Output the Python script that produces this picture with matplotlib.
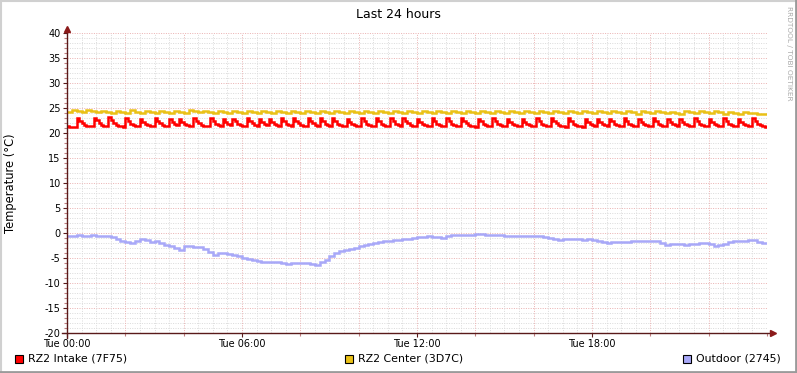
import numpy as np
import matplotlib
matplotlib.use("Agg")
import matplotlib.pyplot as plt
from matplotlib.patches import Rectangle
from matplotlib.lines import Line2D

plt.rcParams["axes.unicode_minus"] = False

# RZ2 Intake, 5 minute steps (one row = one hour)
intake = [
    21.4, 21.3, 21.3, 21.3, 23.0, 22.5, 22.0, 21.7, 21.5, 21.4, 21.4, 23.1,
    22.6, 22.0, 21.7, 21.5, 21.4, 23.2, 22.6, 22.1, 21.7, 21.5, 21.4, 21.3,
    23.0, 22.4, 21.9, 21.6, 21.5, 21.4, 22.8, 22.3, 21.8, 21.6, 21.5, 21.4,
    23.1, 22.5, 22.0, 21.7, 21.5, 21.4, 22.9, 22.3, 21.8, 21.6, 22.9, 22.3,
    21.9, 21.6, 21.5, 21.4, 23.1, 22.5, 22.0, 21.7, 21.5, 21.4, 21.4, 23.0,
    22.4, 21.9, 21.6, 21.5, 22.8, 22.2, 21.8, 21.6, 22.9, 22.4, 21.9, 21.6,
    21.5, 21.4, 23.1, 22.5, 22.0, 21.7, 21.5, 22.9, 22.3, 21.8, 21.6, 22.9,
    22.3, 21.9, 21.6, 21.5, 23.0, 22.4, 21.9, 21.6, 21.5, 23.0, 22.5, 22.0,
    21.7, 21.5, 21.4, 23.1, 22.5, 22.0, 21.7, 21.5, 23.0, 22.4, 21.9, 21.6,
    21.5, 23.0, 22.4, 21.9, 21.6, 21.5, 21.4, 22.9, 22.3, 21.9, 21.6, 21.5,
    21.4, 23.0, 22.4, 21.9, 21.6, 21.5, 21.4, 23.0, 22.4, 21.9, 21.6, 21.5,
    21.4, 23.0, 22.4, 21.9, 21.6, 21.5, 23.1, 22.5, 22.0, 21.7, 21.5, 21.4,
    22.9, 22.3, 21.8, 21.6, 21.5, 21.4, 23.0, 22.4, 21.9, 21.6, 21.5, 21.4,
    23.0, 22.4, 21.9, 21.6, 21.5, 21.4, 23.1, 22.5, 22.0, 21.7, 21.5, 21.4,
    21.3, 22.9, 22.4, 21.9, 21.6, 21.5, 21.4, 23.0, 22.4, 21.9, 21.6, 21.5,
    21.4, 22.8, 22.3, 21.8, 21.6, 21.5, 21.4, 22.9, 22.3, 21.9, 21.6, 21.5,
    21.4, 23.0, 22.4, 21.9, 21.6, 21.5, 21.4, 23.1, 22.5, 22.0, 21.7, 21.5,
    21.4, 21.3, 23.0, 22.4, 21.9, 21.6, 21.5, 21.4, 21.3, 22.9, 22.3, 21.8,
    21.6, 21.5, 22.8, 22.2, 21.8, 21.6, 21.5, 22.9, 22.4, 21.9, 21.6, 21.5,
    21.4, 23.0, 22.4, 21.9, 21.6, 21.5, 21.4, 22.9, 22.3, 21.8, 21.6, 21.5,
    21.4, 23.0, 22.4, 21.9, 21.6, 21.5, 21.4, 22.8, 22.2, 21.8, 21.6, 21.5,
    22.9, 22.3, 21.9, 21.6, 21.5, 21.4, 23.0, 22.4, 21.9, 21.6, 21.5, 21.4,
    22.9, 22.3, 21.8, 21.6, 21.5, 21.4, 23.0, 22.4, 21.9, 21.6, 21.5, 21.4,
    22.9, 22.3, 21.8, 21.6, 21.5, 21.4, 23.0, 22.4, 21.9, 21.6, 21.4, 21.3,
]

# RZ2 Center, 10 minute steps (one row = one hour)
center = [
    24.2, 24.6, 24.4, 24.2, 24.6, 24.4,
    24.2, 24.5, 24.3, 24.1, 24.5, 24.3,
    24.1, 24.6, 24.3, 24.1, 24.5, 24.3,
    24.1, 24.5, 24.3, 24.1, 24.4, 24.2,
    24.1, 24.6, 24.4, 24.2, 24.5, 24.3,
    24.1, 24.5, 24.3, 24.1, 24.4, 24.2,
    24.0, 24.5, 24.3, 24.1, 24.5, 24.3,
    24.1, 24.4, 24.2, 24.0, 24.5, 24.3,
    24.1, 24.5, 24.3, 24.1, 24.4, 24.2,
    24.0, 24.5, 24.3, 24.1, 24.4, 24.2,
    24.0, 24.4, 24.2, 24.0, 24.5, 24.3,
    24.1, 24.4, 24.2, 24.0, 24.4, 24.2,
    24.0, 24.5, 24.3, 24.1, 24.4, 24.2,
    24.0, 24.4, 24.2, 24.0, 24.4, 24.2,
    24.0, 24.5, 24.3, 24.1, 24.4, 24.2,
    24.0, 24.4, 24.2, 24.0, 24.4, 24.2,
    24.0, 24.4, 24.2, 24.0, 24.4, 24.2,
    24.0, 24.5, 24.3, 24.1, 24.4, 24.2,
    24.0, 24.4, 24.2, 24.0, 24.4, 24.2,
    24.0, 24.4, 24.2, 23.9, 24.4, 24.2,
    24.0, 24.4, 24.2, 24.0, 24.3, 24.1,
    23.9, 24.4, 24.2, 24.0, 24.4, 24.2,
    24.0, 24.4, 24.2, 23.9, 24.3, 24.1,
    23.9, 24.3, 24.1, 24.0, 23.9, 23.9,
]

# Outdoor, 10 minute steps (one row = one hour)
outdoor = [
    -0.5, -0.5, -0.4, -0.5, -0.5, -0.4,
    -0.5, -0.5, -0.6, -0.7, -1.1, -1.6,
    -1.8, -1.9, -1.5, -1.2, -1.4, -1.7,
    -1.6, -2.0, -2.3, -2.6, -3.0, -3.4,
    -2.6, -2.5, -2.7, -2.8, -3.2, -3.8,
    -4.3, -4.0, -3.9, -4.1, -4.3, -4.5,
    -4.9, -5.1, -5.4, -5.6, -5.7, -5.8,
    -5.7, -5.7, -5.9, -6.1, -5.9, -6.0,
    -5.9, -6.0, -6.1, -6.4, -5.8, -5.3,
    -4.5, -4.0, -3.6, -3.3, -3.1, -2.9,
    -2.6, -2.4, -2.2, -1.9, -1.8, -1.6,
    -1.5, -1.4, -1.3, -1.2, -1.1, -1.0,
    -0.8, -0.8, -0.6, -0.7, -0.8, -0.9,
    -0.5, -0.4, -0.4, -0.3, -0.3, -0.3,
    -0.2, -0.2, -0.4, -0.4, -0.3, -0.4,
    -0.5, -0.5, -0.6, -0.6, -0.6, -0.6,
    -0.6, -0.6, -0.8, -0.9, -1.1, -1.3,
    -1.2, -1.2, -1.2, -1.2, -1.3, -1.2,
    -1.4, -1.6, -1.7, -1.9, -1.8, -1.7,
    -1.7, -1.7, -1.6, -1.6, -1.6, -1.5,
    -1.5, -1.6, -2.0, -2.3, -2.1, -2.1,
    -2.2, -2.3, -2.2, -2.1, -2.0, -1.9,
    -2.1, -2.5, -2.4, -2.1, -1.8, -1.6,
    -1.5, -1.5, -1.4, -1.4, -1.8, -1.9,
]

series_names = ["RZ2 Intake (7F75)", "RZ2 Center (3D7C)", "Outdoor (2745)"]
series_colors = ["#FF0000", "#EAC117", "#A8A8F8"]
x_ticks = [0, 6, 12, 18]
x_labels = ["Tue 00:00", "Tue 06:00", "Tue 12:00", "Tue 18:00"]
y_ticks = list(range(-20, 45, 5))

W, H = 797, 373
fig = plt.figure(figsize=(W / 100, H / 100), dpi=100)
fig.patch.set_facecolor("white")

ax = fig.add_axes([67 / W, (H - 333) / H, 700 / W, 300 / H])
ax.set_xlim(0, 24)
ax.set_ylim(-20, 40)

# grid: minor grey, major reddish, dotted
for y in np.arange(-20, 41, 1):
    major = y % 5 == 0
    ax.axhline(y, color="#EBB4B4" if major else "#DCDCDC", lw=0.72,
               ls=(0, (1, 1.4)), zorder=1)
for x in np.arange(0, 24.01, 0.5):
    major = abs(x % 2) < 1e-9
    ax.axvline(x, color="#EBB4B4" if major else "#DCDCDC", lw=0.72,
               ls=(0, (1, 1.4)), zorder=1)

lw = 1.8
ax.stairs(outdoor, np.arange(len(outdoor) + 1) * 24 / len(outdoor),
          baseline=None, color=series_colors[2], lw=lw, zorder=3)
ax.stairs(center, np.arange(len(center) + 1) * 24 / len(center),
          baseline=None, color=series_colors[1], lw=lw, zorder=3)
ax.stairs(intake, np.arange(len(intake) + 1) * 24 / len(intake),
          baseline=None, color=series_colors[0], lw=lw, zorder=4)

for s in ax.spines.values():
    s.set_visible(False)

axis_col = "#5A1A1A"
# axis lines with arrows
ax.add_line(Line2D([-0.17, 24.15], [-20, -20], color=axis_col, lw=1,
                   clip_on=False, zorder=5))
ax.add_line(Line2D([0, 0], [-21, 40.8], color=axis_col, lw=1,
                   clip_on=False, zorder=5))
ax.plot([24.2], [-20], marker=">", ms=4, color="#8B1A1A", clip_on=False, zorder=6)
ax.plot([0], [40.9], marker="^", ms=4, color="#8B1A1A", clip_on=False, zorder=6)

ax.set_yticks(y_ticks)
ax.set_yticks(range(-20, 41), minor=True)
ax.set_xticks(x_ticks)
ax.set_xticklabels(x_labels)
ax.set_xticks(np.arange(0, 24.01, 2), minor=True)
ax.tick_params(axis="both", which="major", labelsize=7, length=3,
               color=axis_col, width=0.8, pad=1.5, labelcolor="black")
ax.tick_params(axis="both", which="minor", length=2, color="#C08080", width=0.8)
ax.set_facecolor("white")

ax.set_ylabel("Temperature (°C)", fontsize=8.3, labelpad=20)
fig.text(398 / W, 1 - 14 / H, "Last 24 hours", ha="center", va="center",
         fontsize=9)
fig.text(789 / W, 1 - 6 / H, "RRDTOOL / TOBI OETIKER", rotation=270,
         ha="center", va="top", fontsize=5.3, color="#AAAAAA")

# legend
leg_x = [15, 345, 683]
for name, col, lx in zip(series_names, series_colors, leg_x):
    fig.patches.append(Rectangle((lx / W, 1 - 363 / H), 8 / W, 8 / H,
                                 transform=fig.transFigure, facecolor=col,
                                 edgecolor="black", lw=0.8))
    fig.text((lx + 13) / W, 1 - 358.5 / H, name, ha="left", va="center",
             fontsize=7.9)

# frame shading like rrdtool
fig.add_artist(Line2D([0.5 / W, 0.5 / W], [0, 1], color="#D0D0D0", lw=1.5,
                      transform=fig.transFigure))
fig.add_artist(Line2D([0, 1], [1 - 0.5 / H, 1 - 0.5 / H], color="#D0D0D0",
                      lw=1.5, transform=fig.transFigure))
fig.add_artist(Line2D([1 - 1 / W, 1 - 1 / W], [0, 1], color="#9A9A9A", lw=2,
                      transform=fig.transFigure))
fig.add_artist(Line2D([0, 1], [1 / H, 1 / H], color="#9A9A9A", lw=2,
                      transform=fig.transFigure))

fig.savefig("out.png", dpi=100)
